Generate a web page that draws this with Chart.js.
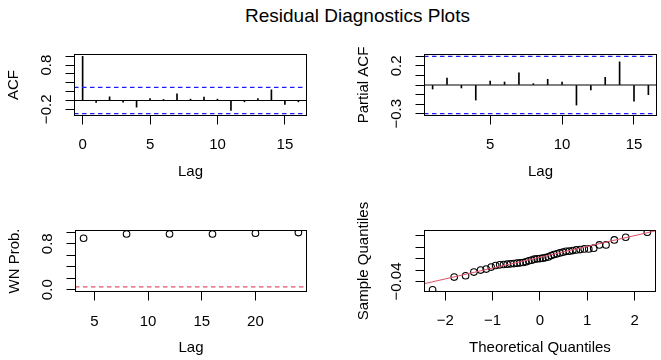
<!DOCTYPE html>
<html>
<head>
<meta charset="utf-8">
<script src="https://cdn.jsdelivr.net/npm/chart.js@4.4.1/dist/chart.umd.min.js"></script>
<style>
  body { margin: 0; background: #fff; }
  #wrap { position: relative; width: 661px; height: 360px; font-family: "Liberation Sans", Arial, sans-serif; }
  canvas { position: absolute; }
  #title { position: absolute; left: 357.5px; top: 6px; transform: translateX(-50%); font-size: 19px; line-height: 19px; white-space: nowrap; color: #000; }
</style>
</head>
<body>
<div id="wrap">
  <div id="title">Residual Diagnostics Plots</div>
  <canvas id="acfChart" width="330" height="180" style="left:0px;top:0px"></canvas>
  <canvas id="pacfChart" width="331" height="180" style="left:330px;top:0px"></canvas>
  <canvas id="wnChart" width="330" height="180" style="left:0px;top:180px"></canvas>
  <canvas id="qqChart" width="331" height="180" style="left:330px;top:180px"></canvas>
</div>
<script>
// ACF of residuals
const acfLags = [0, 1, 2, 3, 4, 5, 6, 7, 8, 9, 10, 11, 12, 13, 14, 15, 16];
const acfValues = [1.0, -0.045, 0.083, -0.038, -0.151, 0.045, 0.023, 0.151, 0.03, 0.075, 0.03, -0.226, -0.03, 0.045, 0.241, -0.09, -0.03];

// partial ACF
const pacfLags = [1, 2, 3, 4, 5, 6, 7, 8, 9, 10, 11, 12, 13, 14, 15, 16];
const pacfValues = [-0.042, 0.073, -0.031, -0.157, 0.042, 0.031, 0.126, 0.014, 0.059, 0.031, -0.209, -0.052, 0.08, 0.241, -0.168, -0.101];

// +/- 1.96/sqrt(n) band
const ciBound = 0.299;

// white noise test p-values
const wnLags = [4, 8, 12, 16, 20, 24];
const wnProbs = [0.896, 0.97, 0.97, 0.97, 0.983, 0.995];
const wnLevel = 0.05;

// normal Q-Q
const qqTheoretical = [-2.269, -1.812, -1.571, -1.396, -1.255, -1.136, -1.031, -0.937, -0.850, -0.769, -0.693, -0.620, -0.551, -0.485, -0.420, -0.357, -0.296, -0.236, -0.176, -0.117, -0.058, 0,
  0.058, 0.117, 0.176, 0.236, 0.296, 0.357, 0.420, 0.485, 0.551, 0.620, 0.693, 0.769, 0.850, 0.937, 1.031, 1.136, 1.255, 1.396, 1.571, 1.812, 2.269];
const qqSample = [-0.0546, -0.0323, -0.0300, -0.0236, -0.0200, -0.0183, -0.0148, -0.0120, -0.0108, -0.0102, -0.0096, -0.0090, -0.0085, -0.0079, -0.0073, -0.0067, -0.0055, -0.0038, -0.0026, -0.0008, -0.0003, 0.0003,
  0.0010, 0.0020, 0.0032, 0.0055, 0.0073, 0.0085, 0.0102, 0.0114, 0.0130, 0.0132, 0.0143, 0.0155, 0.0160, 0.0172, 0.0172, 0.0185, 0.0243, 0.0243, 0.0330, 0.0377, 0.0465];
const qqIntercept = 0.0025;
const qqSlope = 0.019;

// axis ranges and ticks
const acfXRange = [-0.64, 16.64];
const acfYRange = [-0.351, 1.052];
const acfXTicks = [0, 5, 10, 15];
const acfXLabels = ['0', '5', '10', '15'];
const acfYTicks = [-0.2, 0, 0.2, 0.4, 0.6, 0.8, 1.0];
const acfYLabels = ['\u22120.2', '', '', '', '', '0.8', ''];

const pacfXRange = [0.4, 16.6];
const pacfYRange = [-0.323, 0.323];
const pacfXTicks = [5, 10, 15];
const pacfXLabels = ['5', '10', '15'];
const pacfYTicks = [-0.3, -0.2, -0.1, 0, 0.1, 0.2, 0.3];
const pacfYLabels = ['\u22120.3', '', '', '', '', '0.2', ''];

const wnXRange = [3.2, 24.8];
const wnYRange = [-0.04, 1.04];
const wnXTicks = [5, 10, 15, 20];
const wnXLabels = ['5', '10', '15', '20'];
const wnYTicks = [0, 0.2, 0.4, 0.6, 0.8, 1.0];
const wnYLabels = ['0.0', '', '', '', '0.8', ''];

const qqXRange = [-2.45, 2.45];
const qqYRange = [-0.0586, 0.0505];
const qqXTicks = [-2, -1, 0, 1, 2];
const qqXLabels = ['\u22122', '\u22121', '0', '1', '2'];
const qqYTicks = [-0.04, -0.02, 0, 0.02, 0.04];
const qqYLabels = ['\u22120.04', '', '', '', ''];

const FONT = { family: "'Liberation Sans', Arial, sans-serif", size: 15, lineHeight: 1 };
const BLUE = '#1a1aff';
const RED = '#DF536B';

Chart.defaults.font.family = FONT.family;
Chart.defaults.color = '#000';

// R style frame around the plot region
const boxPlugin = {
    id: 'box',
    afterDraw(chart) {
        const { ctx, chartArea: a } = chart;
        const l = Math.round(a.left) + 0.5, t = Math.round(a.top) + 0.5;
        const r = Math.round(a.right) - 0.5, b = Math.round(a.bottom) - 0.5;
        ctx.save();
        ctx.strokeStyle = '#000';
        ctx.lineWidth = 1;
        ctx.strokeRect(l, t, r - l, b - t);
        ctx.restore();
    }
};

function xAxis(range, ticks, labels, title, height, tickPad, titlePad) {
    return {
        type: 'linear', min: range[0], max: range[1], offset: false,
        afterBuildTicks: s => { s.ticks = ticks.map(v => ({ value: v })); },
        afterFit: s => { s.height = height; },
        ticks: { autoSkip: false, maxRotation: 0, padding: tickPad, color: '#000', font: FONT, callback: (v, i) => labels[i] },
        grid: { offset: false, drawOnChartArea: false, drawTicks: true, tickLength: 8.5, color: '#000', lineWidth: 1 },
        border: { display: false },
        title: { display: true, text: title, color: '#000', font: FONT, padding: { top: 0, bottom: titlePad } }
    };
}

function yAxis(range, ticks, labels, title, width, tickPad, titlePad) {
    return {
        type: 'linear', min: range[0], max: range[1],
        afterBuildTicks: s => { s.ticks = ticks.map(v => ({ value: v })); },
        afterFit: s => { s.width = width; },
        ticks: { autoSkip: false, minRotation: 90, maxRotation: 90, crossAlign: 'center', padding: tickPad, color: '#000', font: FONT, callback: (v, i) => labels[i] },
        grid: { drawOnChartArea: false, drawTicks: true, tickLength: 8.5, color: '#000', lineWidth: 1 },
        border: { display: false },
        title: { display: true, text: title, color: '#000', font: FONT, padding: { top: titlePad, bottom: 0 } }
    };
}

function hLine(range, y, color, dash, width) {
    return {
        type: 'line',
        data: [{ x: range[0], y: y }, { x: range[1], y: y }],
        borderColor: color, borderWidth: width, borderDash: dash,
        pointRadius: 0, fill: false
    };
}

const baseOptions = {
    responsive: false,
    animation: false,
    events: [],
    plugins: { legend: { display: false }, tooltip: { enabled: false } }
};

function spikeChart(id, lags, values, xRange, yRange, xTicks, xLabels, yTicks, yLabels, yTitle, pad, yWidth, yTickPad, yTitlePad) {
    const ctx = document.getElementById(id).getContext('2d');
    return new Chart(ctx, {
        type: 'bar',
        data: {
            datasets: [
                hLine(xRange, ciBound, BLUE, [4.5, 3.5], 1.3),
                hLine(xRange, -ciBound, BLUE, [4.5, 3.5], 1.3),
                {
                    type: 'bar',
                    data: lags.map((lag, i) => ({ x: lag, y: values[i] })),
                    backgroundColor: '#000',
                    borderWidth: 0,
                    barThickness: 1
                },
                hLine(xRange, 0, '#000', [], 1)
            ]
        },
        options: Object.assign({}, baseOptions, {
            layout: { padding: pad },
            scales: {
                x: xAxis(xRange, xTicks, xLabels, 'Lag', 64, 13, 0.75),
                y: yAxis(yRange, yTicks, yLabels, yTitle, yWidth, yTickPad, yTitlePad)
            }
        }),
        plugins: [boxPlugin]
    });
}

spikeChart('acfChart', acfLags, acfValues, acfXRange, acfYRange, acfXTicks, acfXLabels, acfYTicks, acfYLabels,
    'ACF', { top: 54, right: 23, bottom: 0, left: 0 }, 74, 3.7, 6.5);

spikeChart('pacfChart', pacfLags, pacfValues, pacfXRange, pacfYRange, pacfXTicks, pacfXLabels, pacfYTicks, pacfYLabels,
    'Partial ACF', { top: 54, right: 4, bottom: 0, left: 0 }, 94, 3.7, 26.5);

const pointStyle = {
    showLine: false,
    pointRadius: 3.3,
    pointBorderWidth: 1.1,
    pointBorderColor: '#000',
    pointBackgroundColor: 'rgba(0,0,0,0)'
};

new Chart(document.getElementById('wnChart').getContext('2d'), {
    type: 'scatter',
    data: {
        datasets: [
            Object.assign({ data: wnLags.map((lag, i) => ({ x: lag, y: wnProbs[i] })) }, pointStyle),
            hLine(wnXRange, wnLevel, RED, [4.5, 3.5], 1.2)
        ]
    },
    options: Object.assign({}, baseOptions, {
        layout: { padding: { top: 50, right: 23, bottom: 0, left: 0 } },
        scales: {
            x: xAxis(wnXRange, wnXTicks, wnXLabels, 'Lag', 68, 13.7, 4.5),
            y: yAxis(wnYRange, wnYTicks, wnYLabels, 'WN Prob.', 75, 8.1, 7.5)
        }
    }),
    plugins: [boxPlugin]
});

new Chart(document.getElementById('qqChart').getContext('2d'), {
    type: 'scatter',
    data: {
        datasets: [
            {
                type: 'line',
                data: qqXRange.map(x => ({ x: x, y: qqIntercept + qqSlope * x })),
                borderColor: RED, borderWidth: 1.1, pointRadius: 0, fill: false
            },
            Object.assign({ data: qqTheoretical.map((q, i) => ({ x: q, y: qqSample[i] })) }, pointStyle)
        ]
    },
    options: Object.assign({}, baseOptions, {
        layout: { padding: { top: 50, right: 4, bottom: 0, left: 0 } },
        scales: {
            x: xAxis(qqXRange, qqXTicks, qqXLabels, 'Theoretical Quantiles', 68, 12.8, 5),
            y: yAxis(qqYRange, qqYTicks, qqYLabels, 'Sample Quantiles', 94, 0, 26.5)
        }
    }),
    plugins: [boxPlugin]
});
</script>
</body>
</html>
